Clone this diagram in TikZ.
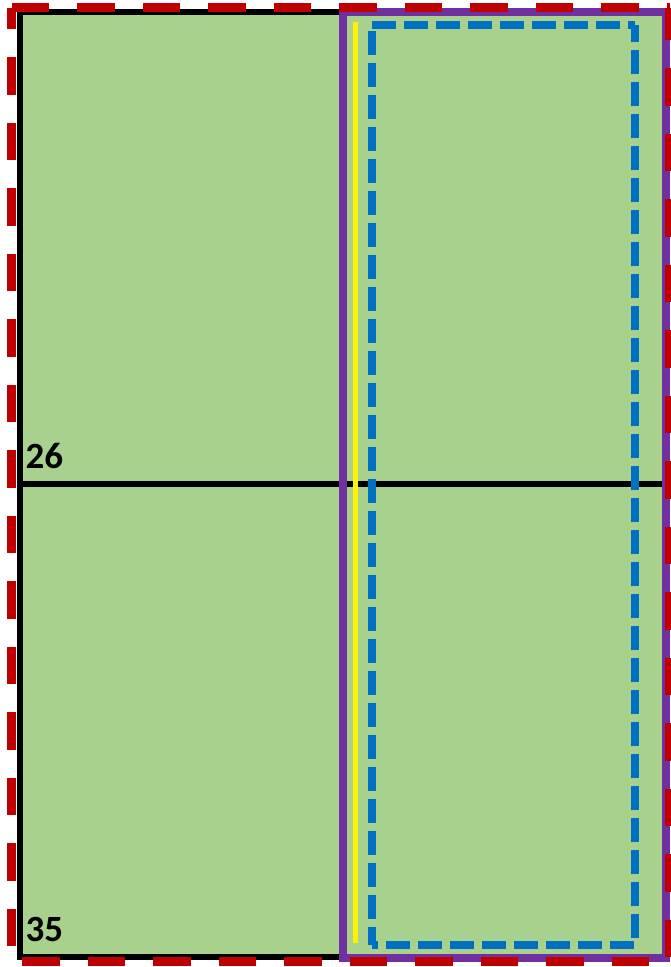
\documentclass[tikz,border=0pt]{standalone}
\usepackage{fontspec}
\setmainfont{Carlito}
\definecolor{fillgreen}{HTML}{A9D18E}
\definecolor{redd}{HTML}{C00000}
\definecolor{bluee}{HTML}{0070C0}
\definecolor{purp}{HTML}{7030A0}
\tikzset{
  reddash/.style={draw=redd, line width=9pt, line cap=butt, dash pattern=on 37.5pt off 28pt},
  bluedash/.style={draw=bluee, line width=8pt, line cap=butt, dash pattern=on 24pt off 8pt},
  lbl/.style={font=\bfseries\fontsize{37}{40}\selectfont, anchor=base west, inner sep=0pt}
}
\begin{document}
\begin{tikzpicture}[x=1pt,y=-1pt]
\useasboundingbox (0,0) rectangle (670,967);
% green area and black frame
\fill[fillgreen] (20,12) rectangle (666,957);
\draw[black, line width=6pt] (20,12) rectangle (666,957);
\draw[black, line width=6pt] (20,484) -- (666,484);
% purple frame
\draw[purp, line width=8pt] (343,12) rectangle (666,957.5);
% yellow line
\draw[yellow, line width=5pt] (355.5,22) -- (355.5,943);
% blue dashed frame
\draw[bluedash, dash phase=0pt] (372,25) -- (635,25);
\draw[bluedash, dash phase=26pt] (372,25) -- (372,945);
\draw[bluedash, dash phase=7pt] (635,25) -- (635,945);
\draw[bluedash, dash phase=18pt] (372,945) -- (635,945);
% red dashed frame
\draw[reddash, dash phase=0pt] (11.5,7.5) -- (669.5,7.5);
\draw[reddash, dash phase=16pt] (11.5,7.5) -- (11.5,961);
\draw[reddash, dash phase=5pt] (669.5,7.5) -- (669.5,961);
\draw[reddash, dash phase=55pt] (11.5,961) -- (669.5,961);
% labels
\node[lbl] (l26) at (25.5,468) {26};
\node[lbl] (l35) at (25.5,941) {35};
\end{tikzpicture}
\end{document}
